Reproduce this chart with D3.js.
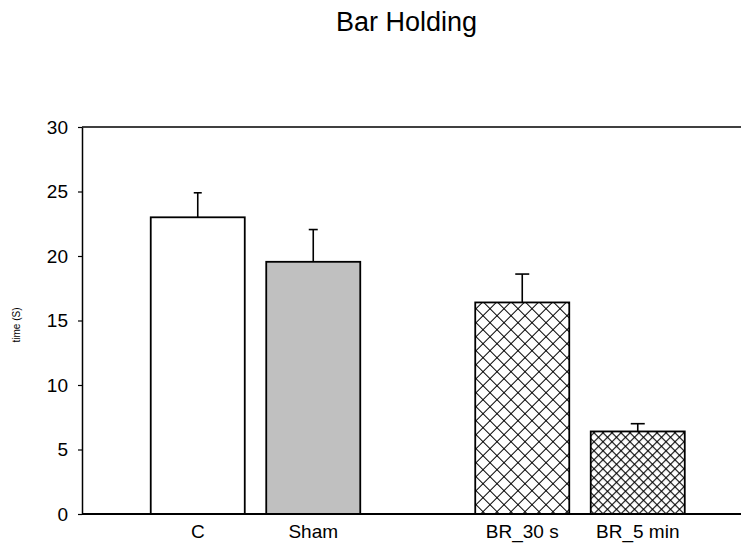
<!DOCTYPE html>
<html>
<head>
<meta charset="utf-8">
<script src="https://cdn.jsdelivr.net/npm/d3@7"></script>
<style>
  html, body { margin: 0; padding: 0; background: #fff; }
  svg { display: block; font-family: "Liberation Sans", Arial, sans-serif; }
</style>
</head>
<body>
<div id="chart"></div>
<script>
// ---- data ----
const categories = ["C", "Sham", "BR_30 s", "BR_5 min"];
const groups     = ["control", "control", "BR", "BR"];
const means      = [23.0, 19.55, 16.4, 6.4];
const errors     = [1.9, 2.5, 2.2, 0.6];
const yTicks     = [0, 5, 10, 15, 20, 25, 30];
const title      = "Bar Holding";
const yLabel     = "time (S)";

// ---- styles ----
const fills = ["#ffffff", "#c0c0c0", "url(#hatchWide)", "url(#hatchFine)"];
const capWidths = [8, 9, 14, 14];

const W = 744, H = 544;
const plot = { left: 82, right: 741, top: 127, bottom: 514 };

const svg = d3.select("#chart").append("svg")
  .attr("width", W).attr("height", H);

// patterns
const defs = svg.append("defs");
function hatch(id, size, sw) {
  const p = defs.append("pattern")
    .attr("id", id)
    .attr("patternUnits", "userSpaceOnUse")
    .attr("width", size).attr("height", size)
    .attr("patternTransform", "rotate(45)");
  p.append("rect").attr("width", size).attr("height", size).attr("fill", "#fff");
  p.append("line").attr("x1", 0).attr("y1", 0).attr("x2", size).attr("y2", 0)
    .attr("stroke", "#000").attr("stroke-width", sw);
  p.append("line").attr("x1", 0).attr("y1", 0).attr("x2", 0).attr("y2", size)
    .attr("stroke", "#000").attr("stroke-width", sw);
}
hatch("hatchWide", 14 / Math.SQRT2, 2.0);
hatch("hatchFine", 9 / Math.SQRT2, 2.2);

// scales
const y = d3.scaleLinear().domain([0, 30]).range([plot.bottom, plot.top]);
const groupNames = Array.from(new Set(groups));
const xGroup = d3.scalePoint().domain(groupNames)
  .range([plot.left + 173.5, plot.right - 161]);
const inner = d3.scaleBand().domain([0, 1])
  .range([-115.5, 115.5]).paddingInner(0.186).paddingOuter(0.093);

const idxInGroup = groups.map((g, i) => groups.slice(0, i).filter(d => d === g).length);
const data = categories.map((c, i) => ({
  cat: c, mean: means[i], err: errors[i], fill: fills[i], cap: capWidths[i],
  x0: xGroup(groups[i]) + inner(idxInGroup[i])
}));

// bars
const bw = inner.bandwidth();
svg.append("g").selectAll("rect").data(data).join("rect")
  .attr("x", d => d.x0)
  .attr("y", d => y(d.mean))
  .attr("width", bw)
  .attr("height", d => y(0) - y(d.mean))
  .attr("fill", d => d.fill)
  .attr("stroke", "#000")
  .attr("stroke-width", 1.8);

// error bars (upper only)
const eg = svg.append("g").attr("stroke", "#000").attr("stroke-width", 1.6);
eg.selectAll("line.v").data(data).join("line").attr("class", "v")
  .attr("x1", d => d.x0 + bw / 2).attr("x2", d => d.x0 + bw / 2)
  .attr("y1", d => y(d.mean)).attr("y2", d => y(d.mean + d.err));
eg.selectAll("line.c").data(data).join("line").attr("class", "c")
  .attr("x1", d => d.x0 + bw / 2 - d.cap / 2).attr("x2", d => d.x0 + bw / 2 + d.cap / 2)
  .attr("y1", d => y(d.mean + d.err)).attr("y2", d => y(d.mean + d.err));

// y axis
const yAxis = svg.append("g")
  .attr("transform", `translate(${plot.left},0)`)
  .call(d3.axisLeft(y).tickValues(yTicks).tickSize(4).tickSizeOuter(0).tickPadding(10));
yAxis.select(".domain").attr("stroke", "#000").attr("stroke-width", 1.5);
yAxis.selectAll(".tick line").attr("stroke", "#000").attr("stroke-width", 1.2);
yAxis.selectAll(".tick text").attr("font-size", 19).attr("fill", "#000")
  .attr("font-family", "Liberation Sans, Arial, sans-serif");

// x axis (line only, labels)
const xAxisG = svg.append("g");
xAxisG.append("line")
  .attr("x1", plot.left).attr("x2", plot.right)
  .attr("y1", y(0)).attr("y2", y(0))
  .attr("stroke", "#000").attr("stroke-width", 1.8);
xAxisG.selectAll("text").data(data).join("text")
  .attr("x", d => d.x0 + bw / 2)
  .attr("y", y(0) + 24)
  .attr("text-anchor", "middle")
  .attr("font-size", 19)
  .attr("fill", "#000")
  .text(d => d.cat);

// top border
svg.append("line")
  .attr("x1", plot.left).attr("x2", plot.right)
  .attr("y1", plot.top).attr("y2", plot.top)
  .attr("stroke", "#000").attr("stroke-width", 1.5);

// title
svg.append("text")
  .attr("x", 406.5).attr("y", 31)
  .attr("text-anchor", "middle")
  .attr("font-size", 27)
  .attr("fill", "#000")
  .text(title);

// y label
svg.append("text")
  .attr("transform", `translate(20,325) rotate(-90)`)
  .attr("text-anchor", "middle")
  .attr("font-size", 10)
  .attr("fill", "#000")
  .text(yLabel);
</script>
</body>
</html>
